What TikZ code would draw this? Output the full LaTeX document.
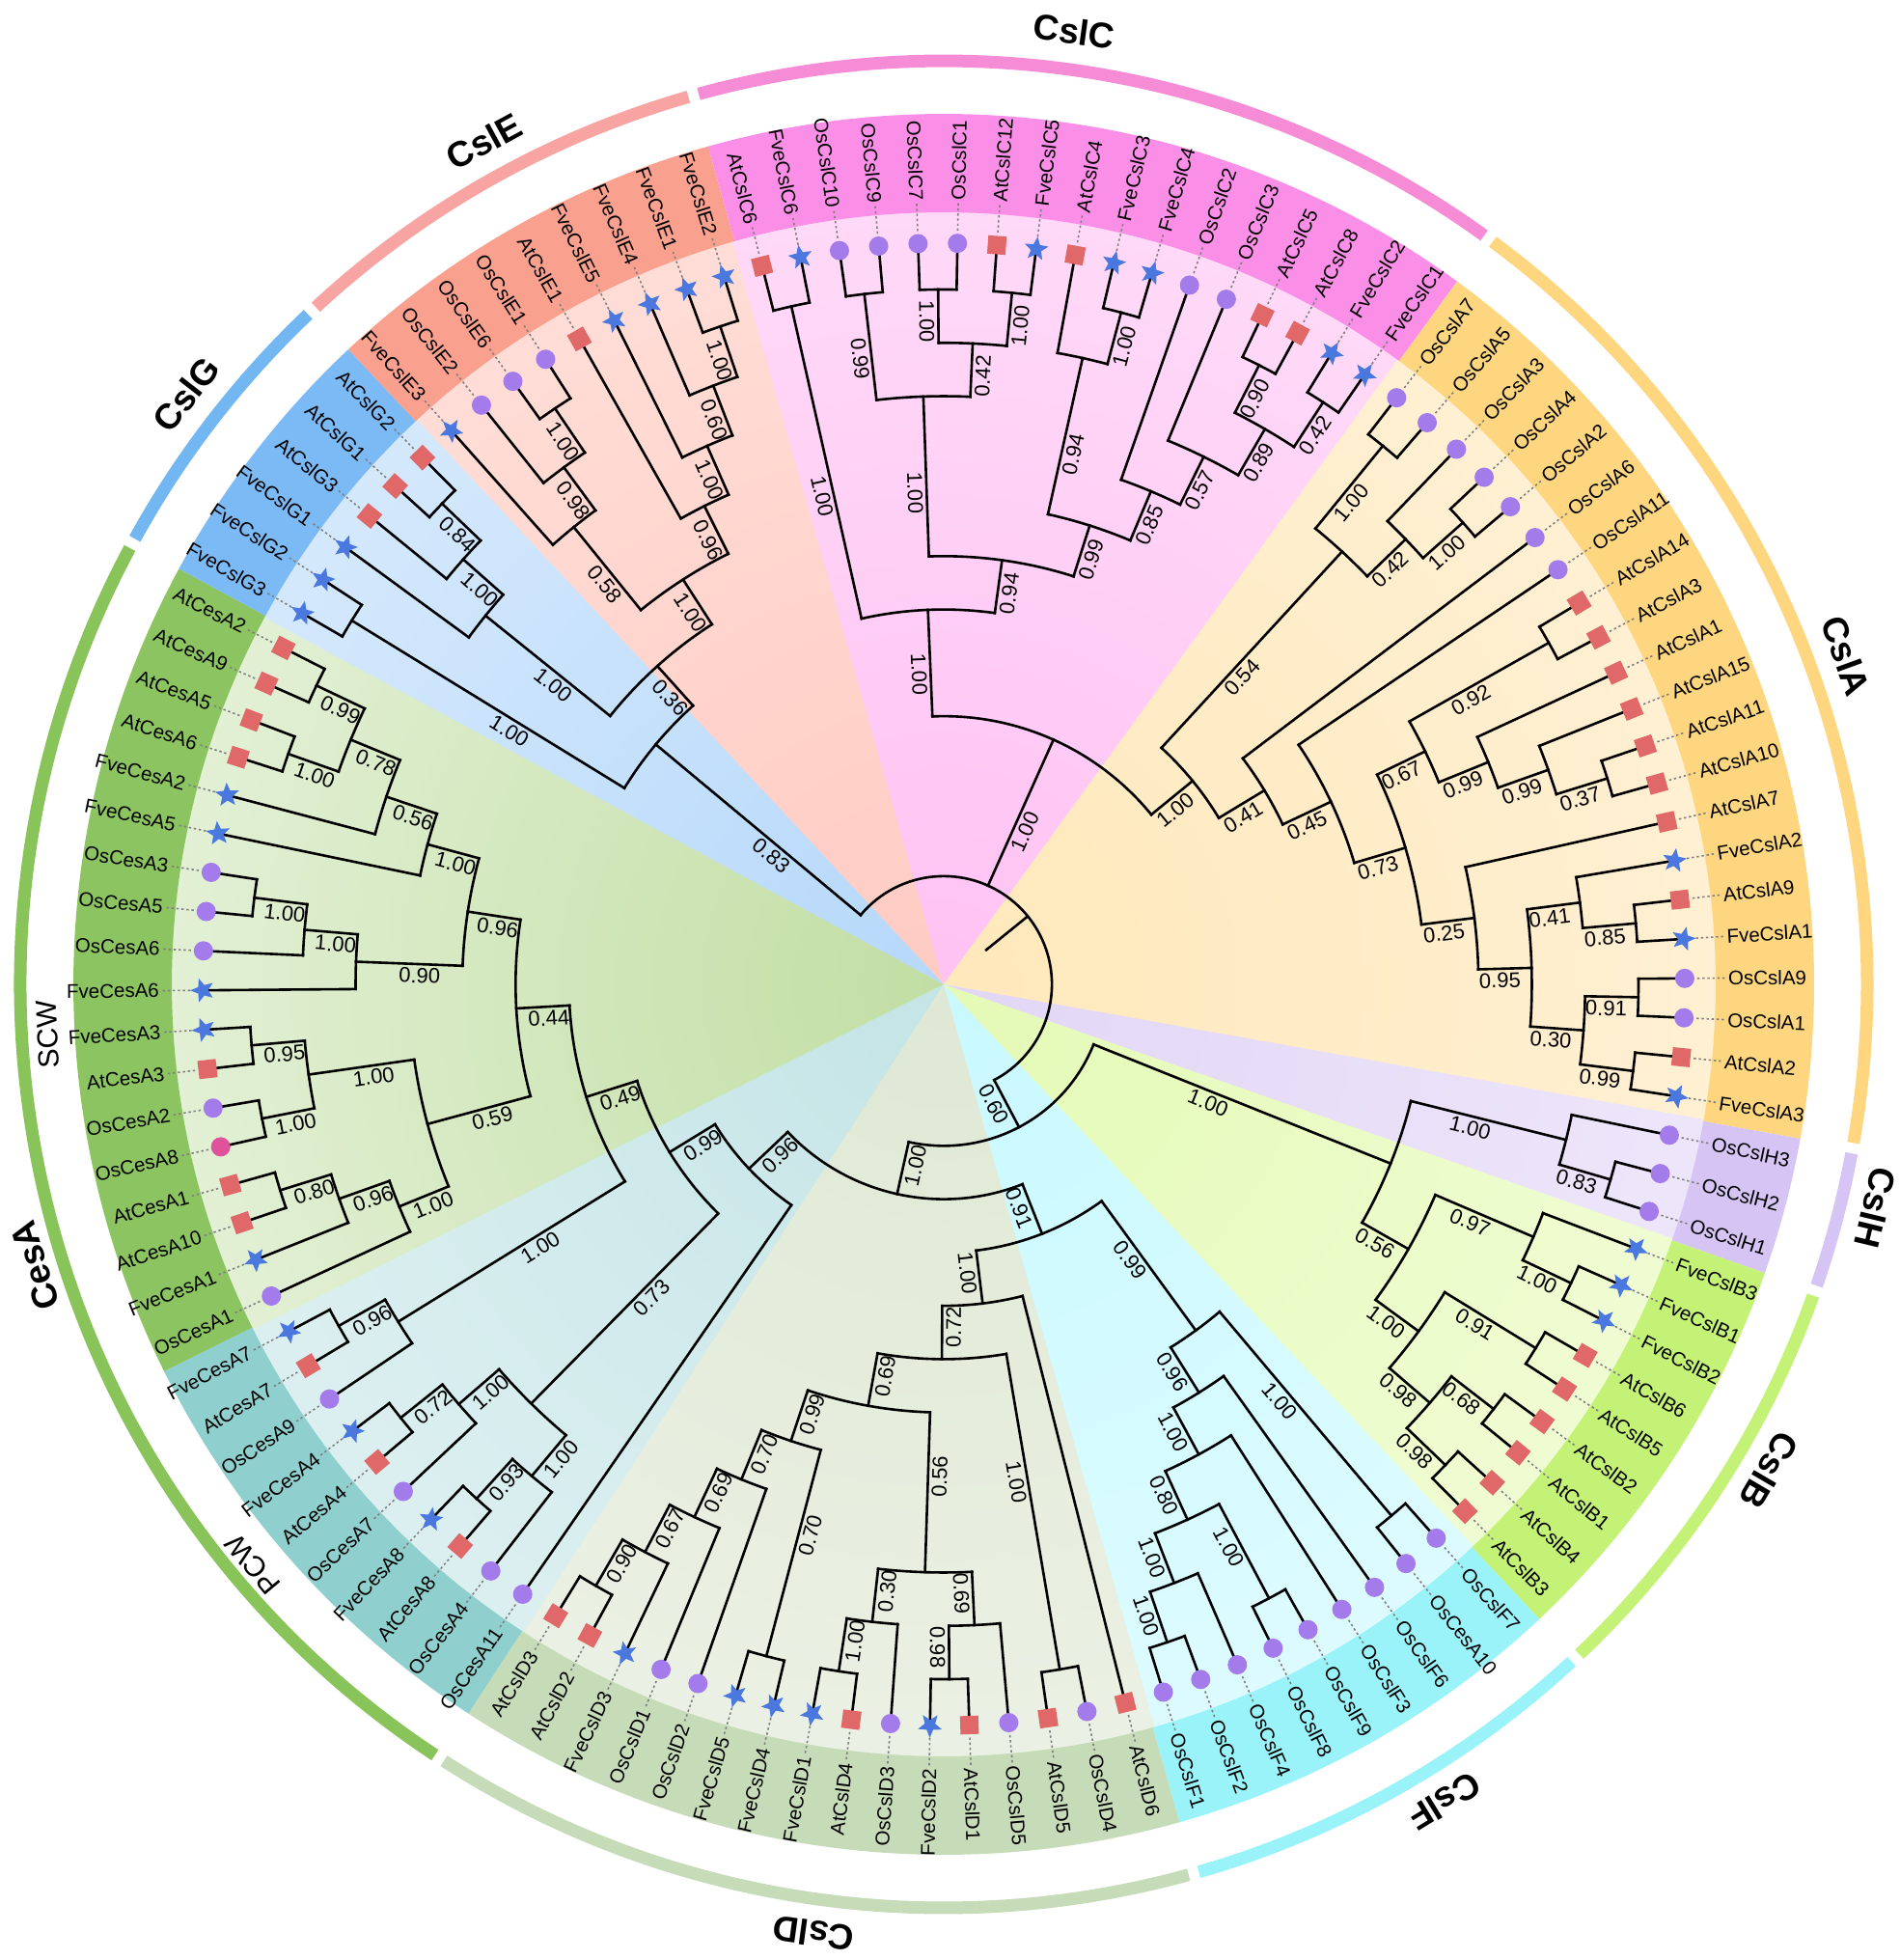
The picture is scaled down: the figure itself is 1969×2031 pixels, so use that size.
\documentclass[tikz,border=0pt]{standalone}
\usepackage{fontspec}
\setmainfont{Liberation Sans}
\usetikzlibrary{shapes.geometric}
% wedge colours (inner / outer)
\definecolor{wCi}{HTML}{FFC2F3}\definecolor{wCo}{HTML}{FFF0FC}
\definecolor{wAi}{HTML}{FFE8BA}\definecolor{wAo}{HTML}{FFF8EC}
\definecolor{wHi}{HTML}{E2D6F6}\definecolor{wHo}{HTML}{F9F6FE}
\definecolor{wBi}{HTML}{E4FAB5}\definecolor{wBo}{HTML}{FBFFF1}
\definecolor{wFi}{HTML}{C8F9FF}\definecolor{wFo}{HTML}{F2FEFF}
\definecolor{wDi}{HTML}{DFE8D4}\definecolor{wDo}{HTML}{F6F9F3}
\definecolor{wPi}{HTML}{C4E4E6}\definecolor{wPo}{HTML}{F5FBFB}
\definecolor{wSi}{HTML}{C1DEA3}\definecolor{wSo}{HTML}{FFFFFF}
\definecolor{wGi}{HTML}{B6D8FA}\definecolor{wGo}{HTML}{F3F9FF}
\definecolor{wEi}{HTML}{FFCBC2}\definecolor{wEo}{HTML}{FFEFEB}
% label bands
\definecolor{bC}{HTML}{FB8FE8}\definecolor{bA}{HTML}{FDD67F}
\definecolor{bH}{HTML}{D6C4F4}\definecolor{bB}{HTML}{C4F277}
\definecolor{bF}{HTML}{9AF3F8}\definecolor{bD}{HTML}{C6DCB8}
\definecolor{bP}{HTML}{8FD0CE}\definecolor{bS}{HTML}{8BC460}
\definecolor{bG}{HTML}{7CBAF5}\definecolor{bE}{HTML}{F9A08F}
% outer ring
\definecolor{rC}{HTML}{F68BD6}\definecolor{rCes}{HTML}{88C45A}
\definecolor{rG}{HTML}{72B6F2}\definecolor{rE}{HTML}{F8A4A2}
% symbols
\definecolor{symO}{HTML}{A47BEA}\definecolor{symA}{HTML}{E06868}
\definecolor{symF}{HTML}{4A78DF}\definecolor{symP}{HTML}{E0529C}
\definecolor{dotc}{HTML}{808080}

\newcommand\leaffont{\fontsize{20.5}{22}\selectfont}
\newcommand\supfont{\fontsize{22}{24}\selectfont}
\newcommand\grpfont{\fontsize{37}{40}\selectfont\bfseries}
\newcommand\cwfont{\fontsize{30}{32}\selectfont}

\tikzset{
  br/.style={line width=2.6pt, line cap=rect, black},
  sup/.style={font=\supfont, anchor=north, inner sep=4pt},
  leaflab/.style={font=\leaffont, inner sep=0pt},
  dotl/.style={dotc, line width=1.6pt, dash pattern=on 2.4pt off 2.8pt},
  sqs/.style={rectangle, fill=symA, minimum size=19pt, inner sep=0pt},
  cis/.style={circle, fill=symO, minimum size=20pt, inner sep=0pt},
  sts/.style={star, star points=5, star point ratio=2.3, fill=symF, minimum size=26pt, inner sep=0pt},
  grp/.style={font=\grpfont, inner sep=0pt},
  cw/.style={font=\cwfont, inner sep=0pt}
}

\newcommand\mywedge[5]{%
  \begin{scope}
    \clip (0,0) -- (#1:806pt) arc[start angle=#1, end angle=#2, radius=806pt] -- cycle;
    \shade[inner color=#3, outer color=#4] (0,0) circle (#5pt);
  \end{scope}}
\newcommand\myband[3]{\fill[#3] (#1:800pt) arc[start angle=#1, end angle=#2, radius=800pt] -- (#2:902pt) arc[start angle=#2, end angle=#1, radius=902pt] -- cycle;}
\newcommand\myring[3]{\draw[#3, line width=13pt] (#1:957pt) arc[start angle=#1, end angle=#2, radius=957pt];}

\newcommand\TreeChild[1]{%
  \edef\TCa{\csname na@#1\endcsname}%
  \edef\TCr{\csname nr@#1\endcsname}%
  \draw[br] (\TCa:\TNr pt) -- (\TCa:\TCr pt);%
  \edef\TCl{\csname nl@#1\endcsname}%
  \ifx\TCl\empty\else
    \pgfmathsetmacro\TClr{\TNr+0.4*(\TCr-\TNr)}%
    \pgfmathparse{cos(\TCa)}%
    \ifdim\pgfmathresult pt<0pt\relax
      \pgfmathsetmacro\TCrot{\TCa+180}%
    \else
      \edef\TCrot{\TCa}%
    \fi
    \node[sup, rotate=\TCrot] at (\TCa:\TClr pt) {\TCl};%
  \fi}
\newcommand\TreeNode[5]{%
  \edef\TNa{\csname na@#2\endcsname}%
  \edef\TNb{\csname na@#3\endcsname}%
  \pgfmathsetmacro\TNm{(\TNa+\TNb)/2}%
  \pgfmathsetmacro\TNr{775.3-55.27*#4}%
  \expandafter\xdef\csname na@#1\endcsname{\TNm}%
  \expandafter\xdef\csname nr@#1\endcsname{\TNr}%
  \expandafter\gdef\csname nl@#1\endcsname{#5}%
  \draw[br] (\TNa:\TNr pt) arc[start angle=\TNa, end angle=\TNb, radius=\TNr pt];%
  \TreeChild{#2}\TreeChild{#3}%
  \coordinate (#1) at (\TNm:\TNr pt);}

\newcommand\drawsyma{\node[sqs, rotate=\LFa] (s\i) at (\LFa:768pt) {};}
\newcommand\drawsymo{\node[cis] (s\i) at (\LFa:768pt) {};}
\newcommand\drawsymp{\node[cis, fill=symP] (s\i) at (\LFa:768pt) {};}
\newcommand\drawsymf{\node[sts, rotate=\LFa-90] (s\i) at (\LFa:768pt) {};}

\def\leaflist{0/AtCslC6/a,1/FveCslC6/f,2/OsCslC10/o,3/OsCslC9/o,4/OsCslC7/o,5/OsCslC1/o,6/AtCslC12/a,7/FveCslC5/f,8/AtCslC4/a,9/FveCslC3/f,10/FveCslC4/f,11/OsCslC2/o,12/OsCslC3/o,13/AtCslC5/a,14/AtCslC8/a,15/FveCslC2/f,16/FveCslC1/f,17/OsCslA7/o,18/OsCslA5/o,19/OsCslA3/o,20/OsCslA4/o,21/OsCslA2/o,22/OsCslA6/o,23/OsCslA11/o,24/AtCslA14/a,25/AtCslA3/a,26/AtCslA1/a,27/AtCslA15/a,28/AtCslA11/a,29/AtCslA10/a,30/AtCslA7/a,31/FveCslA2/f,32/AtCslA9/a,33/FveCslA1/f,34/OsCslA9/o,35/OsCslA1/o,36/AtCslA2/a,37/FveCslA3/f,38/OsCslH3/o,39/OsCslH2/o,40/OsCslH1/o,41/FveCslB3/f,42/FveCslB1/f,43/FveCslB2/f,44/AtCslB6/a,45/AtCslB5/a,46/AtCslB2/a,47/AtCslB1/a,48/AtCslB4/a,49/AtCslB3/a,50/OsCslF7/o,51/OsCesA10/o,52/OsCslF6/o,53/OsCslF3/o,54/OsCslF9/o,55/OsCslF8/o,56/OsCslF4/o,57/OsCslF2/o,58/OsCslF1/o,59/AtCslD6/a,60/OsCslD4/o,61/AtCslD5/a,62/OsCslD5/o,63/AtCslD1/a,64/FveCslD2/f,65/OsCslD3/o,66/AtCslD4/a,67/FveCslD1/f,68/FveCslD4/f,69/FveCslD5/f,70/OsCslD2/o,71/OsCslD1/o,72/FveCslD3/f,73/AtCslD2/a,74/AtCslD3/a,75/OsCesA11/o,76/OsCesA4/o,77/AtCesA8/a,78/FveCesA8/f,79/OsCesA7/o,80/AtCesA4/a,81/FveCesA4/f,82/OsCesA9/o,83/AtCesA7/a,84/FveCesA7/f,85/OsCesA1/o,86/FveCesA1/f,87/AtCesA10/a,88/AtCesA1/a,89/OsCesA8/p,90/OsCesA2/o,91/AtCesA3/a,92/FveCesA3/f,93/FveCesA6/f,94/OsCesA6/o,95/OsCesA5/o,96/OsCesA3/o,97/FveCesA5/f,98/FveCesA2/f,99/AtCesA6/a,100/AtCesA5/a,101/AtCesA9/a,102/AtCesA2/a,103/FveCslG3/f,104/FveCslG2/f,105/FveCslG1/f,106/AtCslG3/a,107/AtCslG1/a,108/AtCslG2/a,109/FveCslE3/f,110/OsCslE2/o,111/OsCslE6/o,112/OsCslE1/o,113/AtCslE1/a,114/FveCslE5/f,115/FveCslE4/f,116/FveCslE1/f,117/FveCslE2/f}

\begin{document}
\begin{tikzpicture}[x=1pt,y=1pt]
\fill[white] (-978,-1011) rectangle (991,1020);
\useasboundingbox (-978,-1011) rectangle (991,1020);

% leaf angles
\foreach \i in {0,...,117}{%
  \pgfmathsetmacro\LFa{ifthenelse(\i>102, 104.19-3.050847*(\i-118), 104.19-3.050847*\i)}%
  \expandafter\xdef\csname na@L\i\endcsname{\LFa}%
  \expandafter\xdef\csname nr@L\i\endcsname{768}%
  \expandafter\gdef\csname nl@L\i\endcsname{}%
}

% coloured wedges
\mywedge{133.32}{105.57}{wEi}{wEo}{1610}
\mywedge{105.87}{53.70}{wCi}{wCo}{1610}
\mywedge{54.00}{-10.37}{wAi}{wAo}{1610}
\mywedge{-10.07}{-19.52}{wHi}{wHo}{1610}
\mywedge{-19.22}{-46.98}{wBi}{wBo}{1610}
\mywedge{-46.68}{-74.44}{wFi}{wFo}{1610}
\mywedge{-74.14}{-123.25}{wDi}{wDo}{1610}
\mywedge{-122.95}{-153.76}{wPi}{wPo}{1610}
\mywedge{-153.46}{-208.67}{wSi}{wSo}{1500}
\mywedge{151.63}{133.02}{wGi}{wGo}{1610}

% label bands
\myband{133.173}{105.715}{bE}
\myband{105.715}{53.851}{bC}
\myband{53.851}{-10.217}{bA}
\myband{-10.217}{-19.370}{bH}
\myband{-19.370}{-46.827}{bB}
\myband{-46.827}{-74.285}{bF}
\myband{-74.285}{-123.099}{bD}
\myband{-123.099}{-153.607}{bP}
\myband{-153.607}{-208.522}{bS}
\myband{151.478}{133.173}{bG}

% outer ring
\myring{132.84}{106.05}{rE}
\myring{105.39}{54.18}{rC}
\myring{53.52}{-9.89}{bA}
\myring{-10.55}{-19.04}{bH}
\myring{-19.70}{-46.50}{bB}
\myring{-47.16}{-73.96}{bF}
\myring{-74.62}{-122.77}{bD}
\myring{-123.43}{-208.19}{rCes}
\myring{151.15}{133.50}{rG}

% group labels
\node[grp, rotate=-7.8] (gC) at (82.2:997pt) {CslC};
\node[grp, rotate=-70] (gA) at (20:995pt) {CslA};
\node[grp, rotate=-103.5] (gH) at (-13.5:993pt) {CslH};
\node[grp, rotate=-120.5] (gB) at (-30.5:993pt) {CslB};
\node[grp, rotate=-148.5] (gF) at (-58.5:993pt) {CslF};
\node[grp, rotate=-187.8] (gD) at (-97.8:993pt) {CslD};
\node[grp, rotate=107.2] (gCes) at (197.2:986pt) {CesA};
\node[grp, rotate=52.1] (gG) at (142.1:995pt) {CslG};
\node[grp, rotate=28.6] (gE) at (118.6:995pt) {CslE};
\node[cw, rotate=93.2] (scw) at (183.2:930pt) {SCW};
\node[cw, rotate=130] (pcw) at (220:935pt) {PCW};

% ---------------- tree ----------------
% CslC
\TreeNode{c1}{L0}{L1}{1}{1.00}
\TreeNode{c2}{L2}{L3}{1}{0.99}
\TreeNode{c3}{L4}{L5}{1}{1.00}
\TreeNode{c4}{L6}{L7}{1}{1.00}
\TreeNode{c5}{c3}{c4}{2}{0.42}
\TreeNode{c6}{c2}{c5}{3}{1.00}
\TreeNode{c10}{L9}{L10}{1}{1.00}
\TreeNode{c8}{L8}{c10}{2}{0.94}
\TreeNode{c13}{L13}{L14}{1}{0.90}
\TreeNode{c14}{L15}{L16}{1}{0.42}
\TreeNode{c12}{c13}{c14}{2}{0.89}
\TreeNode{c11}{L12}{c12}{3}{0.57}
\TreeNode{c9}{L11}{c11}{4}{0.85}
\TreeNode{cY}{c8}{c9}{5}{0.99}
\TreeNode{c7}{c6}{cY}{6}{0.94}
\TreeNode{cR}{c1}{c7}{7}{1.00}
% CslA
\TreeNode{a1}{L17}{L18}{1}{1.00}
\TreeNode{a4}{L20}{L21}{1}{1.00}
\TreeNode{a2}{L19}{a4}{2}{0.42}
\TreeNode{a3}{a1}{a2}{3}{0.54}
\TreeNode{a5}{L24}{L25}{1}{0.92}
\TreeNode{a6}{L28}{L29}{1}{0.37}
\TreeNode{aH}{L27}{a6}{2}{0.99}
\TreeNode{aG}{L26}{aH}{3}{0.99}
\TreeNode{aE}{a5}{aG}{4}{0.67}
\TreeNode{aM}{L32}{L33}{1}{0.85}
\TreeNode{aK}{L31}{aM}{2}{0.41}
\TreeNode{aN}{L34}{L35}{1}{0.91}
\TreeNode{aO}{L36}{L37}{1}{0.99}
\TreeNode{aL}{aN}{aO}{2}{0.30}
\TreeNode{aJ}{aK}{aL}{3}{0.95}
\TreeNode{aI}{L30}{aJ}{4}{0.25}
\TreeNode{aD}{aE}{aI}{5}{0.73}
\TreeNode{aC}{L23}{aD}{6}{0.45}
\TreeNode{aB}{L22}{aC}{7}{0.41}
\TreeNode{aR}{a3}{aB}{8}{1.00}
\TreeNode{CI}{cR}{aR}{9}{1.00}
% CslH + CslB
\TreeNode{h1}{L39}{L40}{1}{0.83}
\TreeNode{h2}{L38}{h1}{2}{1.00}
\TreeNode{b1}{L42}{L43}{1}{1.00}
\TreeNode{b2}{L41}{b1}{2}{0.97}
\TreeNode{b3}{L44}{L45}{1}{0.91}
\TreeNode{b4}{L46}{L47}{1}{0.68}
\TreeNode{b5}{L48}{L49}{1}{0.98}
\TreeNode{b6}{b4}{b5}{2}{0.98}
\TreeNode{b7}{b3}{b6}{3}{1.00}
\TreeNode{b8}{b2}{b7}{4}{0.56}
\TreeNode{HB}{h2}{b8}{5}{1.00}
% CslF
\TreeNode{f1}{L50}{L51}{1}{1.00}
\TreeNode{f3}{L57}{L58}{1}{1.00}
\TreeNode{f4}{L56}{f3}{2}{1.00}
\TreeNode{f5}{L54}{L55}{1}{1.00}
\TreeNode{f6}{f5}{f4}{3}{0.80}
\TreeNode{f7}{L53}{f6}{4}{1.00}
\TreeNode{f8}{L52}{f7}{5}{0.96}
\TreeNode{FR}{f1}{f8}{6}{0.99}
% CslD
\TreeNode{dM}{L73}{L74}{1}{0.90}
\TreeNode{dN}{L72}{dM}{2}{0.67}
\TreeNode{dK}{L71}{dN}{3}{0.69}
\TreeNode{dI}{L70}{dK}{4}{0.70}
\TreeNode{dJ}{L68}{L69}{1}{0.70}
\TreeNode{dC}{dJ}{dI}{5}{0.99}
\TreeNode{dG}{L66}{L67}{1}{1.00}
\TreeNode{dE}{L65}{dG}{2}{0.30}
\TreeNode{dH}{L63}{L64}{1}{0.98}
\TreeNode{dF}{L62}{dH}{2}{0.69}
\TreeNode{dD}{dF}{dE}{3}{0.56}
\TreeNode{dB}{dD}{dC}{6}{0.69}
\TreeNode{d1}{L60}{L61}{1}{1.00}
\TreeNode{dA}{d1}{dB}{7}{0.72}
\TreeNode{DR}{L59}{dA}{8}{1.00}
\TreeNode{Q}{FR}{DR}{9}{0.91}
% CesA PCW
\TreeNode{A1}{L83}{L84}{1}{0.96}
\TreeNode{A2}{L82}{A1}{2}{1.00}
\TreeNode{B1}{L80}{L81}{1}{0.72}
\TreeNode{B2}{L79}{B1}{2}{1.00}
\TreeNode{C1}{L77}{L78}{1}{0.93}
\TreeNode{C2}{L76}{C1}{2}{1.00}
\TreeNode{B3}{C2}{B2}{3}{0.73}
% CesA SCW
\TreeNode{s18}{L87}{L88}{1}{0.80}
\TreeNode{s17}{L86}{s18}{2}{0.96}
\TreeNode{s16}{L85}{s17}{3}{1.00}
\TreeNode{s15}{L89}{L90}{1}{1.00}
\TreeNode{s14}{L91}{L92}{1}{0.95}
\TreeNode{s13}{s15}{s14}{2}{1.00}
\TreeNode{s11}{s16}{s13}{4}{0.59}
\TreeNode{s6}{L95}{L96}{1}{1.00}
\TreeNode{s7}{L94}{s6}{2}{1.00}
\TreeNode{s8}{L93}{s7}{3}{0.90}
\TreeNode{s1}{L101}{L102}{1}{0.99}
\TreeNode{s2}{L99}{L100}{1}{1.00}
\TreeNode{s3}{s2}{s1}{2}{0.78}
\TreeNode{s4}{L98}{s3}{3}{0.56}
\TreeNode{s5}{L97}{s4}{4}{1.00}
\TreeNode{s9}{s8}{s5}{5}{0.96}
\TreeNode{s10}{s11}{s9}{6}{0.44}
\TreeNode{P7}{A2}{s10}{7}{0.49}
\TreeNode{P8}{B3}{P7}{8}{0.99}
\TreeNode{R}{L75}{P8}{9}{0.96}
\TreeNode{P}{Q}{R}{10}{1.00}
\TreeNode{N060}{HB}{P}{11}{0.60}
% CslG + CslE
\TreeNode{g1}{L107}{L108}{1}{0.84}
\TreeNode{g2}{L106}{g1}{2}{1.00}
\TreeNode{g3}{L105}{g2}{3}{1.00}
\TreeNode{g4}{L103}{L104}{1}{1.00}
\TreeNode{e1}{L111}{L112}{1}{1.00}
\TreeNode{e2}{L110}{e1}{2}{0.98}
\TreeNode{e3}{L109}{e2}{3}{0.58}
\TreeNode{ea}{L116}{L117}{1}{1.00}
\TreeNode{eb}{L115}{ea}{2}{0.60}
\TreeNode{ec}{L114}{eb}{3}{1.00}
\TreeNode{ed}{L113}{ec}{4}{0.96}
\TreeNode{eR}{e3}{ed}{5}{1.00}
\TreeNode{ge}{g3}{eR}{6}{0.36}
\TreeNode{GE}{g4}{ge}{7}{0.83}
% root (three children)
\def\TNr{112.1}
\edef\TNa{\csname na@GE\endcsname}
\edef\TNb{\csname na@N060\endcsname}
\draw[br] (\TNa:\TNr pt) arc[start angle=\TNa, end angle=\TNb, radius=\TNr pt];
\TreeChild{GE}\TreeChild{CI}\TreeChild{N060}
\pgfmathsetmacro\TNm{(\TNa+\TNb)/2}
\coordinate (root) at (\TNm:\TNr pt);
\coordinate (rootbase) at (\TNm:56.8pt);
\draw[br] (rootbase) -- (root);

% ---------------- leaves ----------------
\foreach \i/\nm/\tp in \leaflist {%
  \edef\LFa{\csname na@L\i\endcsname}%
  \draw[dotl] (\LFa:781pt) -- (\LFa:810pt);
  \csname drawsym\tp\endcsname
  \pgfmathparse{cos(\LFa)}%
  \ifdim\pgfmathresult pt<0pt\relax
    \pgfmathsetmacro\LFrot{\LFa+180}\def\LFanc{east}%
  \else
    \edef\LFrot{\LFa}\def\LFanc{west}%
  \fi
  \node[leaflab, rotate=\LFrot, anchor=\LFanc] (t\i) at (\LFa:813pt) {\nm};
}
\end{tikzpicture}
\end{document}
